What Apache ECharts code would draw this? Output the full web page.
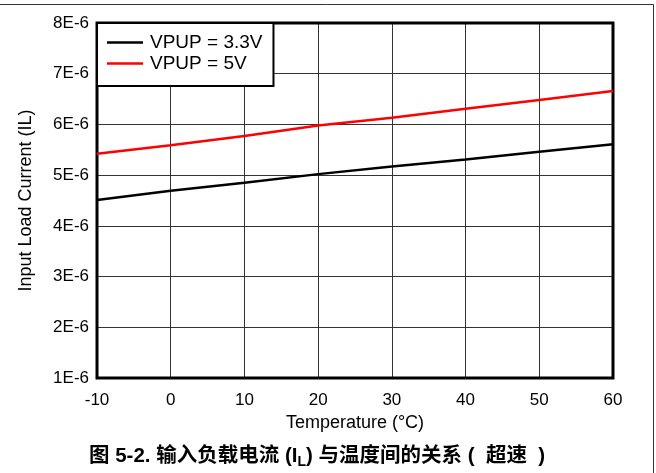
<!DOCTYPE html>
<html>
<head>
<meta charset="utf-8">
<script src="https://cdn.jsdelivr.net/npm/echarts@6/dist/echarts.min.js"></script>
<style>html,body{margin:0;padding:0;background:#fff;}#c{width:656px;height:473px;}</style>
</head>
<body>
<div id="c"></div>
<script>
// Temperature (°C)
const temperatures = [-10, 0, 10, 20, 30, 40, 50, 60];
// Input load current, in units of 1E-6 A
const vpup33 = [4.51, 4.69, 4.85, 5.02, 5.17, 5.31, 5.46, 5.61];
const vpup5 = [5.42, 5.59, 5.77, 5.98, 6.13, 6.31, 6.48, 6.66];
const seriesNames = ['VPUP = 3.3V', 'VPUP = 5V'];
const yTickUnit = 'E-6';

const FONT = '"Liberation Sans", Arial, sans-serif';
const chart = echarts.init(document.getElementById('c'), null, {renderer: 'canvas'});
const toPairs = arr => temperatures.map((t, i) => [t, arr[i]]);

chart.setOption({
  animation: false,
  backgroundColor: '#fff',
  title: {
    text: '{b|图 5-2. 输入负载电流 (I}{s|L}{b|) 与温度间的关系 (  超速  )}',
    left: 84, top: 436,
    textStyle: {
      rich: {
        b: {fontFamily: '"Liberation Sans", Arial, "Noto Sans CJK SC", sans-serif', fontWeight: 'bold', fontSize: 20.5, color: '#000', lineHeight: 26, verticalAlign: 'bottom'},
        s: {fontFamily: '"Liberation Sans", Arial, sans-serif', fontWeight: 'bold', fontSize: 14, color: '#000', lineHeight: 26, verticalAlign: 'bottom', padding: [0, 0, -2, 0]}
      }
    }
  },
  legend: {
    left: 97, top: 23,
    orient: 'vertical',
    backgroundColor: '#fff',
    borderColor: '#000', borderWidth: 2,
    padding: [10, 11, 13, 10],
    itemGap: 2,
    itemWidth: 36, itemHeight: 2.5,
    icon: 'rect',
    textStyle: {fontFamily: FONT, fontSize: 19, color: '#000', padding: [0, 0, 0, 2]},
    data: seriesNames
  },
  grid: {
    left: 97, top: 23, right: 43, bottom: 95,
    show: true, borderColor: '#000', borderWidth: 3, z: 3
  },
  xAxis: {
    type: 'value', min: -10, max: 60, interval: 10,
    name: 'Temperature (°C)', nameLocation: 'middle', nameGap: 31,
    nameTextStyle: {fontFamily: FONT, fontSize: 18, color: '#000'},
    axisLine: {show: false}, axisTick: {show: false},
    axisLabel: {fontFamily: FONT, fontSize: 17, color: '#000', margin: 14},
    splitLine: {show: true, lineStyle: {color: '#333', width: 1}}
  },
  yAxis: {
    type: 'value', min: 1, max: 8, interval: 1,
    name: 'Input Load Current (IL)', nameLocation: 'middle', nameGap: 62,
    nameTextStyle: {fontFamily: FONT, fontSize: 18, color: '#000'},
    axisLine: {show: false}, axisTick: {show: false},
    axisLabel: {fontFamily: FONT, fontSize: 17, color: '#000', margin: 8, formatter: v => v + yTickUnit},
    splitLine: {show: true, lineStyle: {color: '#333', width: 1}}
  },
  series: [
    {name: seriesNames[0], type: 'line', data: toPairs(vpup33), symbol: 'none', smooth: false,
     lineStyle: {color: '#000', width: 2.5}, itemStyle: {color: '#000'}},
    {name: seriesNames[1], type: 'line', data: toPairs(vpup5), symbol: 'none', smooth: false,
     lineStyle: {color: '#ff0000', width: 2.5}, itemStyle: {color: '#ff0000'}}
  ],
  graphic: [
    {type: 'line', shape: {x1: 0, y1: 4.5, x2: 653.5, y2: 4.5}, style: {stroke: '#333', lineWidth: 1}},
    {type: 'line', shape: {x1: 653.5, y1: 4.5, x2: 653.5, y2: 473}, style: {stroke: '#333', lineWidth: 1}}
  ]
});
</script>
</body>
</html>
